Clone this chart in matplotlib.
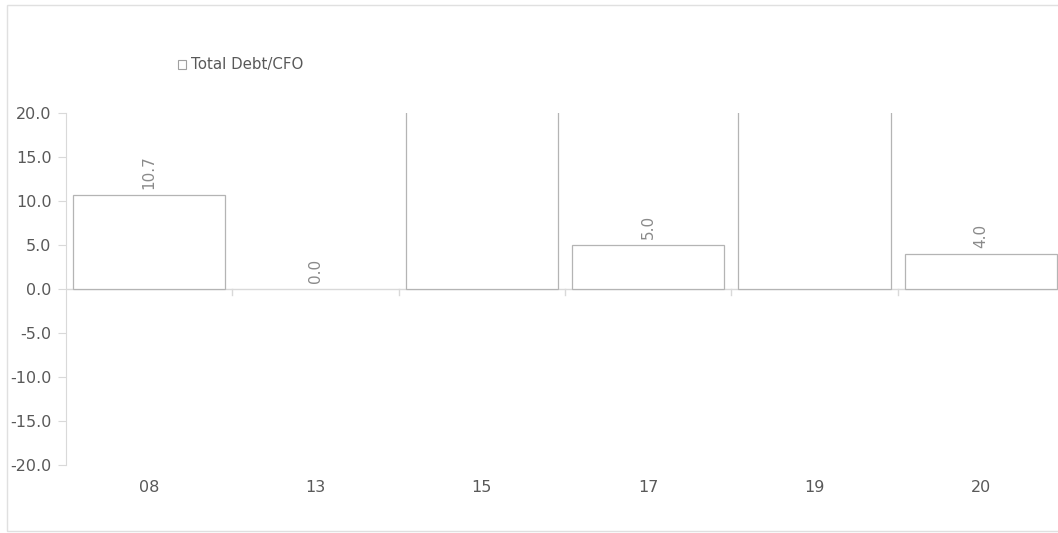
import matplotlib
matplotlib.use("Agg")
import matplotlib.pyplot as plt
from matplotlib.patches import Rectangle, Patch

categories = ["08", "13", "15", "17", "19", "20"]
values = [10.7, 0.0, 25.0, 5.0, 25.0, 4.0]
series_name = "Total Debt/CFO"
yticks = [-20, -15, -10, -5, 0, 5, 10, 15, 20]

W, H = 1058, 533
fig = plt.figure(figsize=(W / 100, H / 100), dpi=100)
plt.rcParams['font.family'] = ['DejaVu Sans']

# outer light border
fig.patches.append(Rectangle((7 / W, 2 / H), 1.2, (531 - 5) / H, transform=fig.transFigure,
                             facecolor='none', edgecolor='#e0e0e0', lw=1.0))

ax = fig.add_axes([66 / W, (H - 465) / H, 998 / W, 352 / H])
x = list(range(len(categories)))
bars = ax.bar(x, values, width=0.914, facecolor='white',
              edgecolor=['#b4b4b4' if v != 0 else 'none' for v in values], lw=0.9, zorder=3)

for xi, v in zip(x, values):
    ax.annotate(f"{v:.1f}", xy=(xi, v), xytext=(0, 4), textcoords='offset points',
                rotation=90, ha='center', va='bottom', fontsize=11, color='#8a8a8a',
                annotation_clip=True)

ax.set_xlim(-0.5, len(categories) - 0.5)
ax.set_ylim(-20, 20)
ax.set_yticks(yticks)
ax.set_yticklabels([f"{t:.1f}" for t in yticks])
ax.set_xticks(x)
ax.set_xticklabels(categories)

ax.axhline(0, color='#d9d9d9', lw=1.0, zorder=2)
for b in [i + 0.5 for i in range(len(categories) - 1)]:
    ax.plot([b, b], [0, -0.7], color='#d9d9d9', lw=1.0, zorder=2, clip_on=False)

for s in ['top', 'right', 'bottom']:
    ax.spines[s].set_visible(False)
ax.spines['left'].set_color('#d9d9d9')
ax.tick_params(axis='y', length=6, color='#d9d9d9', labelcolor='#595959', labelsize=11.5, pad=4.5)
ax.tick_params(axis='x', length=0, labelcolor='#595959', labelsize=11.5, pad=10.5)

handle = Patch(facecolor='white', edgecolor='#a0a0a0', lw=0.8)
fig.legend([handle], [series_name], loc='center left', bbox_to_anchor=(178 / W, 1 - 65 / H),
           frameon=False, fontsize=10.8, handlelength=0.55, handleheight=0.55,
           handletextpad=0.3, labelcolor='#595959', borderaxespad=0, borderpad=0)

fig.savefig("out.png", dpi=100)
